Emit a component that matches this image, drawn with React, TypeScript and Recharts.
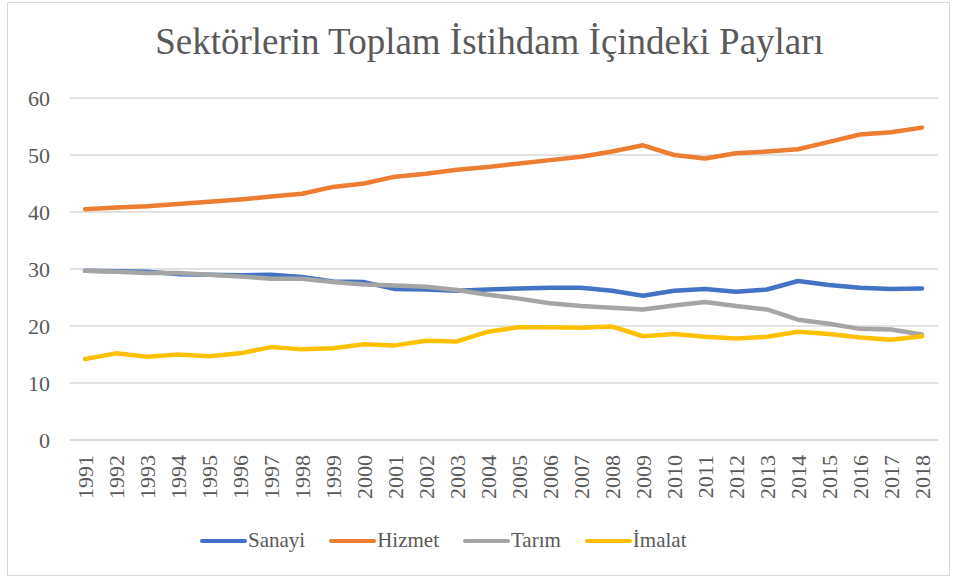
import React from "react";
import { LineChart, Line, XAxis, YAxis, CartesianGrid } from "recharts";

const years = [
  "1991", "1992", "1993", "1994", "1995", "1996", "1997", "1998", "1999", "2000",
  "2001", "2002", "2003", "2004", "2005", "2006", "2007", "2008", "2009", "2010",
  "2011", "2012", "2013", "2014", "2015", "2016", "2017", "2018",
];

const sanayi = [
  29.7, 29.6, 29.5, 29.1, 29.0, 28.9, 29.0, 28.6, 27.8, 27.7,
  26.5, 26.4, 26.2, 26.4, 26.6, 26.7, 26.7, 26.2, 25.3, 26.2,
  26.5, 26.0, 26.4, 27.9, 27.2, 26.7, 26.5, 26.6,
];

const hizmet = [
  40.5, 40.8, 41.0, 41.4, 41.8, 42.2, 42.7, 43.2, 44.4, 45.0,
  46.2, 46.7, 47.4, 47.9, 48.5, 49.1, 49.7, 50.6, 51.7, 50.0,
  49.4, 50.3, 50.6, 51.0, 52.3, 53.6, 54.0, 54.8,
];

const tarim = [
  29.7, 29.5, 29.3, 29.3, 29.0, 28.7, 28.3, 28.3, 27.7, 27.3,
  27.1, 26.9, 26.3, 25.5, 24.8, 24.0, 23.5, 23.2, 22.9, 23.6,
  24.2, 23.5, 22.9, 21.1, 20.4, 19.5, 19.4, 18.5,
];

const imalat = [
  14.2, 15.2, 14.6, 15.0, 14.7, 15.2, 16.3, 15.9, 16.1, 16.8,
  16.6, 17.4, 17.3, 19.0, 19.8, 19.8, 19.7, 19.9, 18.2, 18.6,
  18.1, 17.8, 18.1, 19.0, 18.6, 18.0, 17.6, 18.2,
];

const yTicks = [0, 10, 20, 30, 40, 50, 60];

const series = [
  { key: "sanayi", name: "Sanayi", color: "#4472C4" },
  { key: "hizmet", name: "Hizmet", color: "#ED7D31" },
  { key: "tarim", name: "Tarım", color: "#A5A5A5" },
  { key: "imalat", name: "İmalat", color: "#FFC000" },
];

const data = years.map((year, i) => ({
  year,
  sanayi: sanayi[i],
  hizmet: hizmet[i],
  tarim: tarim[i],
  imalat: imalat[i],
}));

const FONT = "Liberation Serif";
const TEXT = "#595959";

const YearTick = (props: any) => {
  const { x, y, payload } = props;
  return (
    <text
      x={x}
      y={y}
      transform={`rotate(-90 ${x} ${y})`}
      textAnchor="end"
      dy="0.35em"
      fill={TEXT}
      style={{ fontFamily: FONT, fontSize: 22 }}
    >
      {payload.value}
    </text>
  );
};

export default function App() {
  return (
    <div style={{ position: "absolute", left: 0, top: 0, width: 957, height: 581, background: "#fff", fontFamily: FONT }}>
      <div
        style={{
          position: "absolute",
          left: 7,
          top: 2,
          width: 943,
          height: 574,
          border: "1px solid #d9d9d9",
          boxSizing: "border-box",
        }}
      />
      <div
        style={{
          position: "absolute",
          left: 0,
          top: 22,
          width: 957,
          paddingLeft: 22,
          boxSizing: "border-box",
          textAlign: "center",
          fontFamily: FONT,
          fontSize: 37,
          color: TEXT,
          lineHeight: "40px",
        }}
      >
        Sektörlerin Toplam İstihdam İçindeki Payları
      </div>
      <LineChart
        width={957}
        height={581}
        data={data}
        margin={{ top: 98, right: 19, bottom: 0, left: 0 }}
        style={{ position: "absolute", left: 0, top: 0, fontFamily: FONT }}
      >
        <CartesianGrid vertical={false} stroke="#d9d9d9" strokeWidth={1.5} />
        <XAxis
          dataKey="year"
          interval={0}
          height={141}
          axisLine={{ stroke: "#d9d9d9", strokeWidth: 1.5 }}
          tickLine={false}
          tickSize={0}
          tickMargin={15}
          padding={{ left: 15, right: 16 }}
          tick={<YearTick />}
        />
        <YAxis
          domain={[0, 60]}
          ticks={yTicks}
          width={70}
          axisLine={false}
          tickLine={false}
          tickSize={0}
          tickMargin={20}
          tick={{ fill: TEXT, fontSize: 22, style: { fontFamily: FONT } }}
        />
        {series.map((s) => (
          <Line
            key={s.key}
            dataKey={s.key}
            name={s.name}
            stroke={s.color}
            strokeWidth={4.5}
            strokeLinecap="round"
            strokeLinejoin="round"
            dot={false}
            activeDot={false}
            isAnimationActive={false}
          />
        ))}
      </LineChart>
      <div
        style={{
          position: "absolute",
          left: 200,
          top: 528,
          display: "flex",
          alignItems: "center",
          fontFamily: FONT,
          fontSize: 21,
          color: TEXT,
        }}
      >
        {series.map((s) => (
          <div key={s.key} style={{ display: "flex", alignItems: "center", marginRight: 24 }}>
            <span
              style={{
                display: "inline-block",
                width: 47,
                height: 4,
                borderRadius: 2,
                background: s.color,
                marginRight: 1,
              }}
            />
            <span>{s.name}</span>
          </div>
        ))}
      </div>
    </div>
  );
}
